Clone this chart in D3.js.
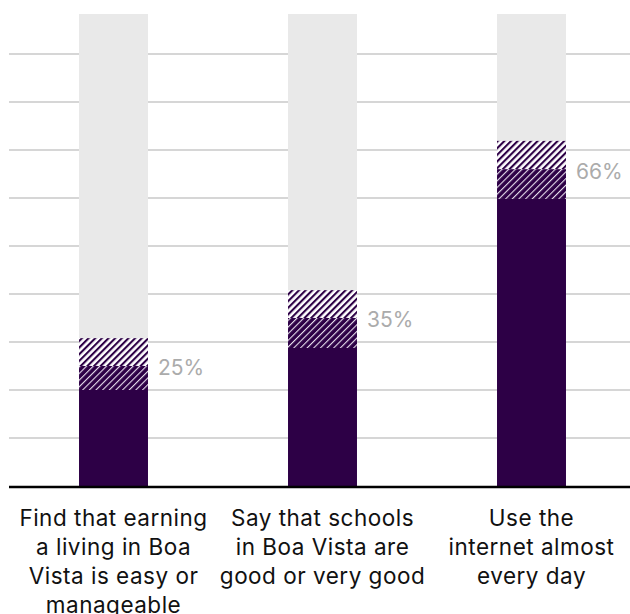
<html>
<script src="https://d3js.org/d3.v7.min.js"></script>
<style>
body{margin:0;background:#fff;}
svg{display:block;font-family:Inter, "Noto Sans", sans-serif;}
</style>
<div id="chart"></div>
<script>
// categories, one line per entry
const categories = [
  ["Find that earning", "a living in Boa", "Vista is easy or", "manageable"],
  ["Say that schools", "in Boa Vista are", "good or very good"],
  ["Use the", "internet almost", "every day"]
];
const solidValues = [20, 28.75, 59.8];
const denseValues = [25, 35, 66];
const lightValues = [30.8, 40.8, 71.9];
const valueLabels = ["25%", "35%", "66%"];
const gridTicks = [10, 20, 30, 40, 50, 60, 70, 80, 90];
const trackMax = 98.33;

const width = 630;
const height = 614;
const margin = { top: 14, left: 9, bottom: 128, right: 0 };
const plotWidth = width - (margin.left + margin.right);
const plotHeight = height - (margin.top + margin.bottom);
const purple = '#2d0046';

const svg = d3.select('#chart').append('svg')
  .attr('width', width)
  .attr('height', height);

const defs = svg.append('defs');
const light = defs.append('pattern')
  .attr('id', 'hatch-light')
  .attr('patternUnits', 'userSpaceOnUse')
  .attr('width', 4.7).attr('height', 4.7)
  .attr('patternTransform', 'rotate(45)');
light.append('rect').attr('width', 4.7).attr('height', 4.7).attr('fill', '#fff');
light.append('rect').attr('width', 2.1).attr('height', 4.7).attr('fill', purple);

const dense = defs.append('pattern')
  .attr('id', 'hatch-dense')
  .attr('patternUnits', 'userSpaceOnUse')
  .attr('width', 4.7).attr('height', 4.7)
  .attr('patternTransform', 'rotate(45)');
dense.append('rect').attr('width', 4.7).attr('height', 4.7).attr('fill', purple);
dense.append('rect').attr('width', 1.1).attr('height', 4.7).attr('fill', '#e8e0ee');

const g = svg.append('g')
  .attr('transform', `translate(${margin.left},${margin.top})`);

const x = d3.scaleBand()
  .domain(d3.range(categories.length))
  .range([0, plotWidth + 6])
  .paddingInner(0.67)
  .paddingOuter(0.335);

const y = d3.scaleLinear()
  .domain([0, trackMax])
  .range([plotHeight, 0]);

// gridlines
g.append('g')
  .selectAll('line')
  .data(gridTicks)
  .join('line')
    .attr('x1', 0)
    .attr('x2', plotWidth)
    .attr('y1', d => y(d))
    .attr('y2', d => y(d))
    .attr('stroke', '#c9c9c9')
    .attr('stroke-width', 1.6);

const bars = g.append('g')
  .selectAll('g')
  .data(d3.range(categories.length))
  .join('g')
    .attr('transform', i => `translate(${x(i)},0)`);

bars.append('rect')
  .attr('y', y(trackMax))
  .attr('width', x.bandwidth())
  .attr('height', y(0) - y(trackMax))
  .attr('fill', '#e9e9e9');

bars.append('rect')
  .attr('y', i => y(lightValues[i]))
  .attr('width', x.bandwidth())
  .attr('height', i => y(denseValues[i]) - y(lightValues[i]))
  .attr('fill', 'url(#hatch-light)');

bars.append('rect')
  .attr('y', i => y(denseValues[i]))
  .attr('width', x.bandwidth())
  .attr('height', i => y(solidValues[i]) - y(denseValues[i]))
  .attr('fill', 'url(#hatch-dense)');

bars.append('rect')
  .attr('y', i => y(solidValues[i]))
  .attr('width', x.bandwidth())
  .attr('height', i => y(0) - y(solidValues[i]))
  .attr('fill', purple);

bars.append('text')
  .attr('x', x.bandwidth() + 10)
  .attr('y', i => y(denseValues[i]) + 2)
  .attr('dy', '0.35em')
  .attr('font-size', 21)
  .attr('fill', '#ababab')
  .text(i => valueLabels[i]);

// baseline
g.append('line')
  .attr('x1', 0)
  .attr('x2', plotWidth)
  .attr('y1', y(0) + 1)
  .attr('y2', y(0) + 1)
  .attr('stroke', '#000')
  .attr('stroke-width', 2.5);

// category labels
bars.append('text')
  .attr('text-anchor', 'middle')
  .attr('x', x.bandwidth() / 2)
  .attr('y', y(0) + 40)
  .attr('font-size', 22.5)
  .attr('letter-spacing', 0.5)
  .attr('fill', '#111')
  .selectAll('tspan')
  .data(i => categories[i])
  .join('tspan')
    .attr('x', x.bandwidth() / 2)
    .attr('dy', (d, j) => j === 0 ? 0 : 29)
    .text(d => d);
</script>
</html>
